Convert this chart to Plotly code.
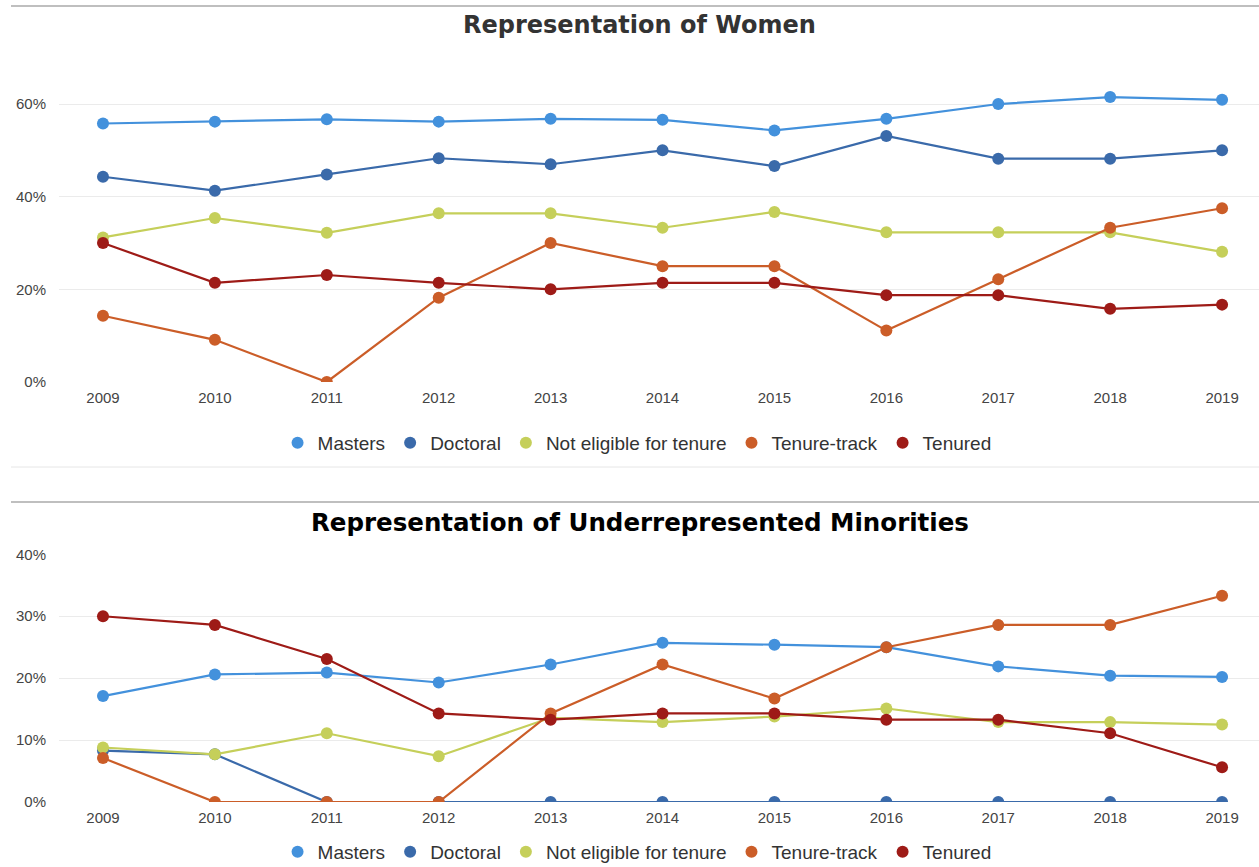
import plotly.graph_objects as go

years = [2009, 2010, 2011, 2012, 2013, 2014, 2015, 2016, 2017, 2018, 2019]
series_names = ["Masters", "Doctoral", "Not eligible for tenure", "Tenure-track", "Tenured"]
colors = ["#4391DC", "#3A6AAA", "#C5CF5A", "#CB5D28", "#9E1B17"]

women_masters = [55.8, 56.2, 56.7, 56.2, 56.8, 56.6, 54.3, 56.8, 60.0, 61.5, 60.9]
women_doctoral = [44.3, 41.3, 44.8, 48.3, 47.0, 50.0, 46.6, 53.1, 48.2, 48.2, 50.0]
women_not_eligible = [31.2, 35.4, 32.2, 36.4, 36.4, 33.3, 36.7, 32.3, 32.3, 32.3, 28.1]
women_tenure_track = [14.3, 9.1, 0.0, 18.2, 30.0, 25.0, 25.0, 11.1, 22.2, 33.3, 37.5]
women_tenured = [30.0, 21.4, 23.1, 21.4, 20.0, 21.4, 21.4, 18.75, 18.75, 15.8, 16.7]

urm_masters = [17.1, 20.6, 20.9, 19.3, 22.2, 25.7, 25.4, 25.0, 21.9, 20.4, 20.2]
urm_doctoral = [8.3, 7.7, 0.0, 0.0, 0.0, 0.0, 0.0, 0.0, 0.0, 0.0, 0.0]
urm_not_eligible = [8.8, 7.7, 11.1, 7.4, 13.6, 12.9, 13.8, 15.1, 12.9, 12.9, 12.5]
urm_tenure_track = [7.1, 0.0, 0.0, 0.0, 14.3, 22.2, 16.7, 25.0, 28.6, 28.6, 33.3]
urm_tenured = [30.0, 28.6, 23.1, 14.3, 13.3, 14.3, 14.3, 13.3, 13.3, 11.1, 5.6]

women_ticks = [0, 20, 40, 60]
urm_ticks = [0, 10, 20, 30, 40]

women_title = "Representation of Women"
urm_title = "Representation of Underrepresented Minorities"

W, H = 1259, 867
def py(px):
    return 1 - px / H

fig = go.Figure()

women = [women_masters, women_doctoral, women_not_eligible, women_tenure_track, women_tenured]
urm = [urm_masters, urm_doctoral, urm_not_eligible, urm_tenure_track, urm_tenured]

for data, xa, ya, leg in [(women, "x", "y", "legend"), (urm, "x2", "y2", "legend2")]:
    for name, vals, col in zip(series_names, data, colors):
        fig.add_trace(go.Scatter(x=years, y=vals, mode="lines", line=dict(color=col, width=2.2),
                                 xaxis=xa, yaxis=ya, showlegend=False, hoverinfo="skip"))
        fig.add_trace(go.Scatter(x=years, y=vals, mode="markers", name=name,
                                 marker=dict(color=col, size=12),
                                 xaxis=xa, yaxis=ya, legend=leg, showlegend=True))

tickfont = dict(family="Liberation Sans, Arial, sans-serif", size=15, color="#444444")
x_dom = [59 / W, 1.0]
x_rng = [2008.607, 2019.33]

xcommon = dict(domain=x_dom, range=x_rng, tickmode="array", tickvals=years,
               ticktext=[str(y) for y in years], showgrid=False, zeroline=False,
               showline=False, ticks="", tickfont=tickfont, automargin=False,
               ticklabelstandoff=5)
fig.update_layout(
    xaxis=dict(anchor="y", **xcommon),
    xaxis2=dict(anchor="y2", **xcommon),
    yaxis=dict(domain=[py(382), py(57.7)], range=[0, 70], tickmode="array",
               tickvals=women_ticks, ticktext=[f"{t}%" for t in women_ticks],
               gridcolor="#ebebeb", gridwidth=1, zeroline=False, automargin=False,
               showline=False, tickfont=tickfont, ticklabelstandoff=12, anchor="x"),
    yaxis2=dict(domain=[py(802), py(554.3)], range=[0, 40], tickmode="array",
                tickvals=urm_ticks, ticktext=[f"{t}%" for t in urm_ticks],
                gridcolor="#ebebeb", gridwidth=1, zeroline=False, automargin=False,
                showline=False, tickfont=tickfont, ticklabelstandoff=12, anchor="x2"),
)

legfont = dict(family="Liberation Sans, Arial, sans-serif", size=19, color="#333333")
fig.update_layout(
    legend=dict(orientation="h", x=0.506, xanchor="center", y=py(443), yanchor="middle",
                font=legfont, itemwidth=30, bgcolor="rgba(0,0,0,0)"),
    legend2=dict(orientation="h", x=0.506, xanchor="center", y=py(852), yanchor="middle",
                 font=legfont, itemwidth=30, bgcolor="rgba(0,0,0,0)"),
)

titlefont = "DejaVu Sans, sans-serif"
fig.add_annotation(text=women_title, x=0.508, y=py(25), xref="paper", yref="paper",
                   showarrow=False, xanchor="center", yanchor="middle",
                   font=dict(family=titlefont, size=24, color="#333333", weight="bold"))
fig.add_annotation(text=urm_title, x=0.508, y=py(522), xref="paper", yref="paper",
                   showarrow=False, xanchor="center", yanchor="middle",
                   font=dict(family=titlefont, size=24.5, color="#000000", weight="bold"))

for ypx, col, w in [(6, "#aaaaaa", 1.5), (467, "#e6e6e6", 1), (502, "#aaaaaa", 1.5)]:
    fig.add_shape(type="line", xref="paper", yref="paper", x0=11 / W, x1=1,
                  y0=py(ypx), y1=py(ypx), line=dict(color=col, width=w))

fig.update_layout(width=W, height=H,
                  margin=dict(l=0, r=0, t=0, b=0, pad=0, autoexpand=False),
                  paper_bgcolor="white", plot_bgcolor="white", showlegend=True)

fig.write_html("out.html", config={"displayModeBar": False},
               post_script="document.body.style.margin='0';document.body.style.overflow='hidden';")
